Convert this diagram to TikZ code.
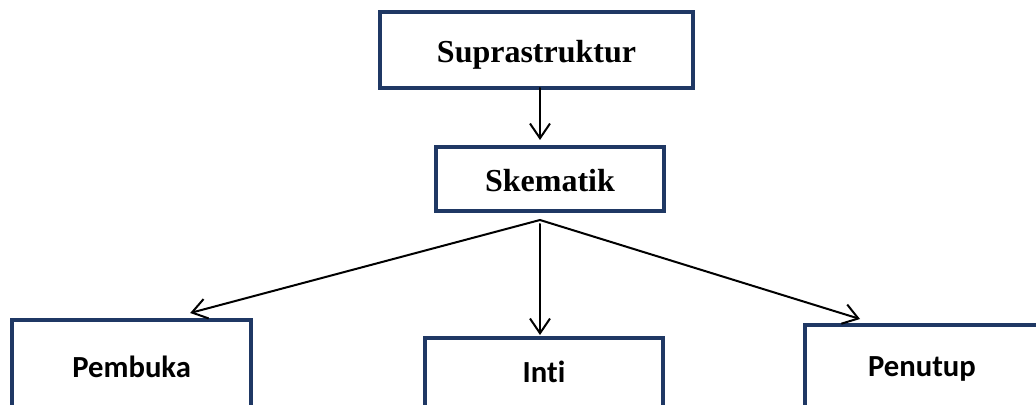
\documentclass[tikz,border=0pt]{standalone}
\usepackage{fontspec}
\setmainfont{Liberation Serif}
\newfontfamily\calibri[Ligatures=NoCommon]{Carlito}
\usetikzlibrary{arrows.meta,positioning}
\definecolor{boxblue}{RGB}{31,56,100}

\begin{document}
\begin{tikzpicture}[
    >={Straight Barb[length=11pt,width=15pt]},
    box/.style={draw=boxblue, line width=3pt, outer sep=0pt, inner sep=2pt, align=center},
    topbox/.style={box, font=\fontsize{24}{28}\selectfont\bfseries, text height=19.5pt, text depth=0pt},
    partbox/.style={box, font=\calibri\fontsize{23}{27}\selectfont\bfseries, text height=14.8pt, text depth=0pt},
    arr/.style={line width=1.5pt, line cap=round, ->}
]
\path[use as bounding box, clip] (0,0) rectangle (777pt,303pt);

\node[topbox, minimum width=235pt, minimum height=57pt] (supra) at (402.4pt,265.5pt) {Suprastruktur};
\node[topbox, minimum width=171pt, minimum height=48pt, below=44.25pt of supra, xshift=10.1pt] (skem) {Skematik};

\node[partbox, minimum width=179pt, minimum height=72pt, below left=81.75pt and 138.75pt of skem] (pemb) {Pembuka};
\node[partbox, minimum width=178.5pt, minimum height=52.5pt, below=95.25pt of skem, xshift=-4.5pt] (inti) {Inti};
\node[partbox, minimum width=175.5pt, minimum height=63pt, below right=85.5pt and 105.75pt of skem] (penu) {Penutup};

\coordinate (fan) at ([shift={(-7.5pt,-6.75pt)}]skem.south);

\draw[arr, shorten >=5.25pt] (supra.south -| fan) -- (skem.north -| fan);
\draw[arr] (fan) -- ([shift={(43.9pt,5.25pt)}]pemb.north);
\draw[arr, shorten <=3pt, shorten >=2.25pt] (fan) -- (inti.north -| fan);
\draw[arr] (fan) -- ([shift={(-46.5pt,4.5pt)}]penu.north);
\end{tikzpicture}
\end{document}
